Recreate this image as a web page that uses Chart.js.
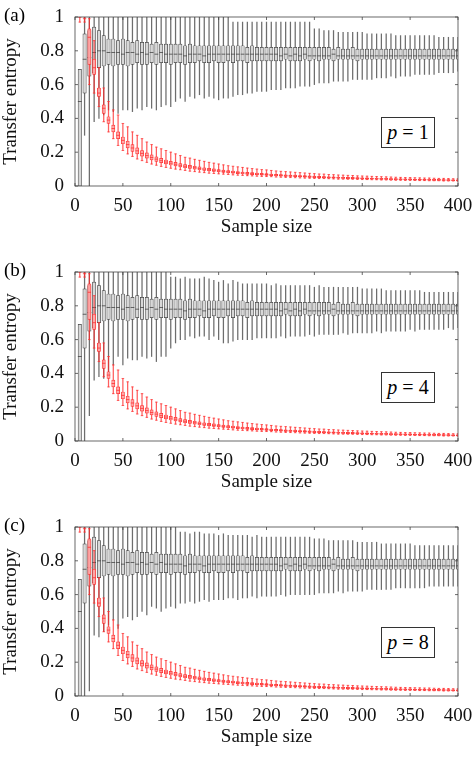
<!DOCTYPE html>
<html><head><meta charset="utf-8">
<script src="https://cdn.jsdelivr.net/npm/chart.js@4"></script>
<style>
body{margin:0;background:#fff;font-family:'Liberation Serif',serif;}
.panel{position:relative;width:474px;height:255px;}
.lab{position:absolute;left:4px;top:4px;font-size:19px;}
.pbox{position:absolute;left:381px;top:117px;width:52px;height:29px;border:1px solid #333;font-size:20px;text-align:center;line-height:29px;background:#fff;}
</style></head><body>
<div class="panel"><canvas id="c0" width="474" height="255"></canvas><div class="lab">(a)</div><div class="pbox"><i>p</i> = 1</div></div>
<div class="panel"><canvas id="c1" width="474" height="255"></canvas><div class="lab">(b)</div><div class="pbox"><i>p</i> = 4</div></div>
<div class="panel"><canvas id="c2" width="474" height="255"></canvas><div class="lab">(c)</div><div class="pbox"><i>p</i> = 8</div></div>
<script>
const sizes=[5,10,15,20,25,30,35,40,45,50,55,60,65,70,75,80,85,90,95,100,105,110,115,120,125,130,135,140,145,150,155,160,165,170,175,180,185,190,195,200,205,210,215,220,225,230,235,240,245,250,255,260,265,270,275,280,285,290,295,300,305,310,315,320,325,330,335,340,345,350,355,360,365,370,375,380,385,390,395,400];
const xTicks=[0,50,100,150,200,250,300,350,400];
const yTicks=[0,0.2,0.4,0.6,0.8,1];
const panelLabels=['(a)','(b)','(c)'];
const pLabels=['p = 1','p = 4','p = 8'];
const blackQ1=[0.00,0.55,0.65,0.67,0.70,0.71,0.72,0.71,0.72,0.72,0.71,0.72,0.73,0.72,0.72,0.73,0.72,0.73,0.73,0.72,0.73,0.73,0.72,0.73,0.73,0.74,0.73,0.73,0.74,0.73,0.73,0.74,0.73,0.74,0.74,0.73,0.74,0.74,0.74,0.74,0.74,0.74,0.74,0.75,0.74,0.74,0.74,0.75,0.74,0.75,0.74,0.75,0.75,0.74,0.75,0.75,0.75,0.75,0.74,0.75,0.75,0.75,0.75,0.75,0.75,0.75,0.75,0.75,0.75,0.75,0.75,0.75,0.75,0.75,0.75,0.75,0.75,0.75,0.75,0.75];
const blackMed=[0.50,0.75,0.76,0.79,0.80,0.80,0.79,0.79,0.79,0.78,0.79,0.79,0.78,0.79,0.78,0.79,0.78,0.79,0.78,0.78,0.78,0.78,0.77,0.78,0.78,0.78,0.77,0.78,0.78,0.78,0.78,0.78,0.78,0.78,0.78,0.78,0.78,0.78,0.78,0.78,0.78,0.78,0.77,0.78,0.77,0.78,0.77,0.78,0.77,0.77,0.77,0.77,0.77,0.78,0.77,0.77,0.77,0.77,0.77,0.77,0.77,0.77,0.77,0.77,0.77,0.77,0.77,0.77,0.77,0.77,0.77,0.77,0.77,0.77,0.77,0.77,0.77,0.77,0.77,0.77];
const blackQ3=[0.69,0.90,0.92,0.94,0.92,0.89,0.87,0.87,0.86,0.87,0.86,0.85,0.86,0.85,0.85,0.84,0.85,0.84,0.84,0.84,0.84,0.84,0.83,0.84,0.83,0.83,0.83,0.83,0.83,0.83,0.83,0.83,0.83,0.83,0.83,0.82,0.83,0.82,0.82,0.82,0.82,0.82,0.82,0.82,0.82,0.82,0.82,0.82,0.82,0.82,0.82,0.82,0.82,0.81,0.82,0.81,0.81,0.82,0.81,0.81,0.81,0.81,0.81,0.81,0.81,0.81,0.81,0.81,0.81,0.81,0.81,0.81,0.81,0.81,0.81,0.81,0.81,0.81,0.81,0.81];
const blackMaxA=[0.69,1,1,1,1,1,1,1,1,1,1,1,1,1,1,1,1,1,1,1,1,1,1,1,1,1,1,1,1,1,1,1,0.97,0.97,0.97,0.97,0.97,0.97,0.97,0.97,0.97,0.97,0.97,0.97,0.97,0.97,0.97,0.97,0.97,0.93,0.93,0.92,0.92,0.92,0.91,0.91,0.91,0.91,0.91,0.91,0.90,0.90,0.90,0.90,0.90,0.90,0.89,0.89,0.89,0.89,0.89,0.89,0.89,0.89,0.89,0.88,0.88,0.88,0.88,0.88];
const blackMinA=[0,0.3,0,0.38,0.40,0.42,0.45,0.44,0.43,0.45,0.45,0.44,0.46,0.45,0.47,0.46,0.45,0.47,0.48,0.47,0.50,0.52,0.50,0.53,0.52,0.54,0.52,0.53,0.52,0.51,0.52,0.52,0.53,0.54,0.54,0.55,0.55,0.56,0.56,0.56,0.57,0.57,0.57,0.58,0.58,0.58,0.59,0.59,0.59,0.60,0.61,0.61,0.61,0.62,0.62,0.62,0.62,0.63,0.63,0.63,0.63,0.63,0.64,0.64,0.64,0.65,0.64,0.65,0.65,0.65,0.66,0.66,0.66,0.66,0.66,0.67,0.67,0.67,0.67,0.68];
const blackMaxB=[0.69,1,1,1,1,1,1,1,1,1,1,1,1,1,1,1,1,1,1,0.97,0.97,0.96,0.97,0.96,0.96,0.96,0.97,0.96,0.95,0.94,0.95,0.93,0.95,0.94,0.93,0.93,0.93,0.93,0.93,0.93,0.92,0.93,0.92,0.92,0.92,0.92,0.92,0.92,0.92,0.91,0.92,0.91,0.91,0.91,0.91,0.91,0.91,0.91,0.91,0.90,0.90,0.90,0.90,0.90,0.89,0.89,0.89,0.89,0.89,0.89,0.89,0.89,0.88,0.88,0.88,0.88,0.88,0.88,0.88,0.88];
const blackMinB=[0,0,0.15,0.36,0.38,0.37,0.40,0.45,0.50,0.45,0.49,0.48,0.48,0.50,0.49,0.50,0.47,0.50,0.50,0.55,0.58,0.60,0.60,0.62,0.61,0.62,0.62,0.60,0.62,0.60,0.58,0.58,0.59,0.60,0.60,0.60,0.60,0.61,0.61,0.61,0.61,0.61,0.62,0.61,0.62,0.62,0.62,0.62,0.63,0.62,0.63,0.63,0.63,0.63,0.63,0.64,0.63,0.64,0.64,0.64,0.64,0.64,0.65,0.64,0.65,0.65,0.65,0.65,0.65,0.66,0.65,0.66,0.66,0.66,0.66,0.66,0.66,0.67,0.66,0.67];
const blackMaxC=[0.69,1,1,1,1,1,1,1,1,1,1,1,1,1,1,1,1,1,1,1,1,0.97,0.97,0.96,0.97,0.97,0.96,0.96,0.96,0.95,0.96,0.95,0.95,0.95,0.95,0.95,0.94,0.95,0.94,0.94,0.94,0.94,0.94,0.94,0.94,0.94,0.94,0.94,0.94,0.93,0.93,0.93,0.92,0.92,0.92,0.92,0.92,0.92,0.91,0.91,0.91,0.91,0.91,0.90,0.90,0.90,0.90,0.90,0.90,0.90,0.89,0.89,0.89,0.89,0.89,0.89,0.89,0.89,0.89,0.89];
const blackMinC=[0,0,0.03,0.36,0.35,0.38,0.42,0.45,0.40,0.46,0.47,0.45,0.47,0.50,0.48,0.53,0.52,0.50,0.52,0.53,0.52,0.55,0.55,0.56,0.55,0.56,0.57,0.56,0.57,0.57,0.57,0.58,0.58,0.57,0.58,0.58,0.59,0.58,0.59,0.59,0.59,0.59,0.60,0.59,0.60,0.60,0.60,0.60,0.60,0.60,0.61,0.61,0.61,0.61,0.62,0.61,0.62,0.62,0.62,0.62,0.63,0.63,0.63,0.63,0.63,0.63,0.64,0.64,0.64,0.64,0.64,0.64,0.64,0.65,0.65,0.65,0.65,0.65,0.65,0.65];
const redMed=[1,0.99,0.88,0.70,0.55,0.46,0.39,0.34,0.30,0.27,.245,.225,.208,.193,.18,.169,.159,.15,.142,.135,.129,.123,.117,.113,.108,.104,.1,.096,.093,.09,.087,.084,.082,.079,.077,.075,.073,.071,.069,.068,.066,.064,.063,.061,.06,.059,.057,.056,.055,.054,.053,.052,.051,.05,.049,.048,.047,.047,.046,.045,.044,.044,.043,.042,.042,.041,.04,.04,.039,.039,.038,.038,.037,.036,.036,.036,.035,.035,.034,.034];
const redQ1=[1,0.99,0.72,0.66,0.53,0.43,0.37,0.32,0.28,0.25,.225,.205,.19,.177,.165,.155,.146,.138,.131,.124,.119,.113,.108,.104,.1,.096,.092,.089,.086,.083,.08,.078,.076,.073,.071,.069,.067,.066,.064,.063,.061,.059,.058,.057,.056,.055,.053,.052,.051,.05,.049,.048,.047,.046,.046,.045,.044,.044,.043,.042,.041,.041,.04,.039,.039,.038,.037,.037,.036,.036,.035,.035,.034,.034,.033,.033,.033,.032,.032,.032];
const redQ3=[1,0.99,0.93,0.75,0.58,0.48,0.41,0.36,0.32,0.29,.265,.245,.226,.21,.196,.184,.173,.163,.154,.146,.14,.133,.127,.122,.117,.113,.108,.104,.101,.097,.094,.091,.089,.086,.083,.081,.079,.077,.075,.073,.071,.069,.068,.066,.065,.064,.062,.061,.06,.058,.057,.056,.055,.054,.053,.052,.051,.051,.05,.049,.048,.047,.047,.046,.045,.044,.044,.043,.042,.042,.041,.041,.04,.039,.039,.039,.038,.038,.037,.037];
const redMin=[0.97,0.97,0.60,0.55,0.47,0.38,0.32,0.28,0.24,0.21,.19,.175,.16,.15,.14,.13,.123,.116,.11,.105,.1,.096,.092,.088,.085,.082,.079,.076,.074,.072,.07,.068,.066,.064,.063,.061,.06,.058,.057,.056,.055,.053,.052,.051,.05,.049,.048,.047,.046,.045,.044,.044,.043,.042,.041,.041,.04,.04,.039,.038,.038,.037,.037,.036,.036,.035,.034,.034,.033,.033,.033,.032,.032,.031,.031,.031,.03,.03,.03,.029];
const redMax=[1,1,0.99,0.86,0.70,0.58,0.50,0.45,0.42,0.37,.35,.32,.3,.28,.26,.245,.23,.22,.21,.2,.19,.18,.17,.165,.158,.152,.146,.14,.135,.13,.125,.12,.117,.113,.11,.106,.103,.1,.097,.095,.092,.089,.087,.085,.083,.081,.079,.077,.075,.073,.071,.07,.068,.067,.065,.064,.063,.062,.06,.059,.058,.057,.056,.055,.054,.053,.052,.051,.05,.05,.049,.048,.047,.047,.046,.045,.045,.044,.043,.043];
const panels=[[blackMinA,blackMaxA],[blackMinB,blackMaxB],[blackMinC,blackMaxC]];

const FONT="'Liberation Serif', serif";
const BLK='#444', RED='#ff3030';
const frame={id:'frame',afterDraw(c){const a=c.chartArea,x=c.ctx;x.save();x.strokeStyle='#444';x.lineWidth=0.8;x.strokeRect(a.left,a.top,a.right-a.left,a.bottom-a.top);
 x.beginPath();c.scales.x.ticks.forEach(t=>{const p=c.scales.x.getPixelForValue(t.value);x.moveTo(p,a.bottom);x.lineTo(p,a.bottom-3);x.moveTo(p,a.top);x.lineTo(p,a.top+3);});
 c.scales.y.ticks.forEach(t=>{const p=c.scales.y.getPixelForValue(t.value);x.moveTo(a.left,p);x.lineTo(a.left+3,p);x.moveTo(a.right,p);x.lineTo(a.right-3,p);});x.stroke();x.restore();}};
function rng(lo,hi){return sizes.map((s,i)=>({x:s,y:[lo[i],hi[i]]}));}
function pts(v){return sizes.map((s,i)=>({x:s,y:v[i]}));}
panels.forEach(([mn,mx],k)=>{
 new Chart(document.getElementById('c'+k),{type:'bar',
  data:{datasets:[
   {data:rng(mn,mx),backgroundColor:'rgba(60,60,60,0.75)',barThickness:0.6,grouped:false,order:7},
   {data:rng(blackQ1,blackQ3),backgroundColor:'#d8d8d8',borderColor:BLK,borderWidth:0.7,borderSkipped:false,barThickness:3.4,grouped:false,order:6},
   {type:'line',data:pts(blackMed),showLine:false,pointStyle:'line',pointRadius:1.9,borderColor:BLK,borderWidth:0.8,order:5},
   {data:rng(redMin,redMax),backgroundColor:'rgba(255,40,40,0.75)',barThickness:0.6,grouped:false,order:4},
   {type:'line',data:pts(redMin).concat(pts(redMax)),showLine:false,pointStyle:'line',pointRadius:1.3,borderColor:RED,borderWidth:0.7,order:3},
   {data:rng(redQ1,redQ3),backgroundColor:'rgba(255,200,200,0.7)',borderColor:RED,borderWidth:0.7,borderSkipped:false,barThickness:3.2,grouped:false,order:2},
   {type:'line',data:pts(redMed),showLine:false,pointStyle:'line',pointRadius:1.7,borderColor:RED,borderWidth:0.8,order:1}
  ]},
  options:{responsive:false,animation:false,events:[],layout:{padding:{top:17,right:16,left:0,bottom:17}},
   plugins:{legend:{display:false},tooltip:{enabled:false}},
   scales:{
    x:{type:'linear',offset:false,min:0,max:400,grid:{display:false},border:{display:false},
      afterBuildTicks(s){s.ticks=xTicks.map(v=>({value:v}));},
      ticks:{color:'#111',font:{family:FONT,size:19},padding:1,maxRotation:0},
      title:{display:true,text:'Sample size',color:'#111',font:{family:FONT,size:19},padding:{top:0,bottom:0}},
      afterFit(s){s.height=52;}},
    y:{min:0,max:1,grid:{display:false},border:{display:false},
      afterBuildTicks(s){s.ticks=yTicks.map(v=>({value:v}));},
      ticks:{color:'#111',font:{family:FONT,size:19},padding:3,callback:v=>String(v)},
      title:{display:true,text:'Transfer entropy',color:'#111',font:{family:FONT,size:19},padding:{top:0,bottom:2}},
      afterFit(s){s.width=75;}}
   }},plugins:[frame]});
});
</script></body></html>
